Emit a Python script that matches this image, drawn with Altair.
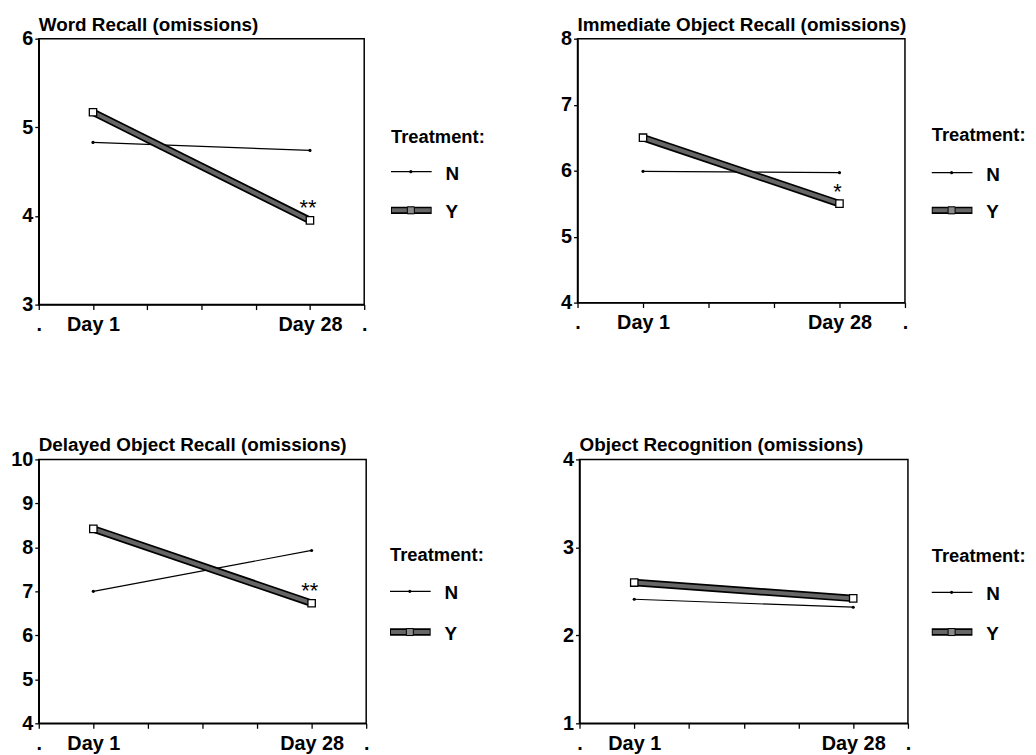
import altair as alt
import pandas as pd

# ---------------- data ----------------
titles = ["Word Recall (omissions)", "Immediate Object Recall (omissions)",
          "Delayed Object Recall (omissions)", "Object Recognition (omissions)"]
y_min = [3, 4, 4, 1]
y_max = [6, 8, 10, 4]
day_labels = ["Day 1", "Day 28"]
# category slots on the x axis (first/last slots are the empty "." categories)
slot_day1 = [1, 1, 1, 1]
slot_day28 = [5, 4, 5, 5]
slot_max = [6, 5, 6, 6]
treatments = ["N", "Y"]
n_day1 = [4.83, 5.99, 7.00, 2.41]
n_day28 = [4.74, 5.97, 7.93, 2.32]
y_day1 = [5.17, 6.50, 8.42, 2.60]
y_day28 = [3.95, 5.50, 6.73, 2.42]
stars = ["**", "*", "**", ""]
legend_title = "Treatment:"

FONT = "Liberation Sans"
FRAME = alt.ViewBackground(stroke="black", strokeWidth=1.5, fill="white")
NOFRAME = alt.ViewBackground(stroke="transparent", fill="white")


def panel(i, w, h, yext):
    df = pd.DataFrame({
        "slot": [slot_day1[i], slot_day28[i], slot_day1[i], slot_day28[i]],
        "day": day_labels * 2,
        "treatment": [treatments[0]] * 2 + [treatments[1]] * 2,
        "value": [n_day1[i], n_day28[i], y_day1[i], y_day28[i]],
    })
    xmax = slot_max[i]
    lbl = (f"datum.value == 0 || datum.value == {xmax} ? '.' : "
           f"datum.value == {slot_day1[i]} ? '{day_labels[0]}' : "
           f"datum.value == {slot_day28[i]} ? '{day_labels[1]}' : ''")
    x = alt.X("slot:Q", scale=alt.Scale(domain=[0, xmax], nice=False, zero=False),
              axis=alt.Axis(values=list(range(0, xmax + 1)), labelExpr=lbl, title=None,
                            grid=False, tickSize=5, labelPadding=5, labelFlush=False,
                            labelOverlap=False))
    y = alt.Y("value:Q", scale=alt.Scale(domain=[y_min[i], y_max[i]], nice=False, zero=False),
              axis=alt.Axis(values=list(range(y_min[i], y_max[i] + 1)), format="d", title=None,
                            grid=False, tickSize=4, labelPadding=2, minExtent=yext,
                            maxExtent=yext, labelFlush=False))
    base = alt.Chart(df).encode(x=x, y=y)
    n = base.transform_filter(f"datum.treatment == '{treatments[0]}'")
    t = base.transform_filter(f"datum.treatment == '{treatments[1]}'")
    layers = [
        n.mark_line(color="black", strokeWidth=1.2),
        n.mark_point(shape="circle", filled=True, color="black", size=10, opacity=1),
        t.mark_line(color="black", strokeWidth=7.5),
        t.mark_line(color="#666666", strokeWidth=4),
        t.mark_point(shape="square", filled=True, fill="white", stroke="black",
                     strokeWidth=1.3, size=55, opacity=1),
    ]
    if stars[i]:
        sdf = pd.DataFrame({"slot": [slot_day28[i]], "value": [y_day28[i]], "star": [stars[i]]})
        layers.append(alt.Chart(sdf).mark_text(fontSize=22, font=FONT, color="black", dy=-12,
                                               dx=-2, baseline="middle")
                      .encode(x=x, y=y, text="star:N"))
    return alt.layer(*layers).properties(
        width=w, height=h, view=FRAME,
        title=alt.Title(titles[i], anchor="start", frame="group", fontSize=19, font=FONT,
                        fontWeight="bold", color="black", offset=-6))


def legend_panel(w, h, x0, ytitle, yn, yy):
    one = pd.DataFrame({"k": [0]})
    title = alt.Chart(pd.DataFrame({"t": [legend_title]})).mark_text(
        align="left", baseline="middle", fontSize=18.5, fontWeight="bold", font=FONT,
        color="black").encode(text="t:N", x=alt.value(x0), y=alt.value(ytitle))
    n_line = alt.Chart(one).mark_rule(color="black", strokeWidth=1.2).encode(
        x=alt.value(x0), x2=alt.value(x0 + 41), y=alt.value(yn))
    n_dot = alt.Chart(one).mark_point(shape="circle", filled=True, color="black", size=10,
                                      opacity=1).encode(x=alt.value(x0 + 20), y=alt.value(yn))
    y_out = alt.Chart(one).mark_rule(color="black", strokeWidth=7.5).encode(
        x=alt.value(x0), x2=alt.value(x0 + 41), y=alt.value(yy))
    y_in = alt.Chart(one).mark_rule(color="#666666", strokeWidth=4).encode(
        x=alt.value(x0 + 1), x2=alt.value(x0 + 40), y=alt.value(yy))
    y_mid = alt.Chart(one).mark_point(shape="square", filled=True, color="#8a8a8a",
                                      stroke="black", strokeWidth=1, size=50, opacity=1).encode(
        x=alt.value(x0 + 20), y=alt.value(yy))
    labs = []
    for lab, yp in zip(treatments, [yn, yy]):
        labs.append(alt.Chart(pd.DataFrame({"t": [lab]})).mark_text(
            align="left", baseline="middle", fontSize=19, fontWeight="bold", font=FONT,
            color="black").encode(text="t:N", x=alt.value(x0 + 55), y=alt.value(yp + 2)))
    return alt.layer(title, n_line, n_dot, y_out, y_in, y_mid, *labs).properties(
        width=w, height=h, view=NOFRAME)


p1 = panel(0, 328, 268, 30)
l1 = legend_panel(184, 268, 22, 99, 134, 173)
p2 = panel(1, 330, 266, 24)
l2 = legend_panel(118, 266, 22, 97, 135, 173)
p3 = panel(2, 330, 266, 30)
l3 = legend_panel(184, 266, 19, 96, 133, 174)
p4 = panel(3, 331, 266, 24)
l4 = legend_panel(115, 266, 19, 97, 134, 174)

row1 = alt.hconcat(p1, l1, p2, l2, spacing=0)
row2 = alt.hconcat(p3, l3, p4, l4, spacing=0)

chart = alt.vconcat(row1, row2, spacing=101).properties(
    padding={"left": 0, "top": 4, "right": 0, "bottom": 0},
    background="white",
).configure_view(stroke="transparent").configure_axis(
    domainColor="black", domainWidth=1.5, tickColor="black", tickWidth=1.3,
    labelColor="black", labelFont=FONT, labelFontSize=20, labelFontWeight="bold",
)

chart.save("out.html", embed_options={"renderer": "svg", "actions": False})
